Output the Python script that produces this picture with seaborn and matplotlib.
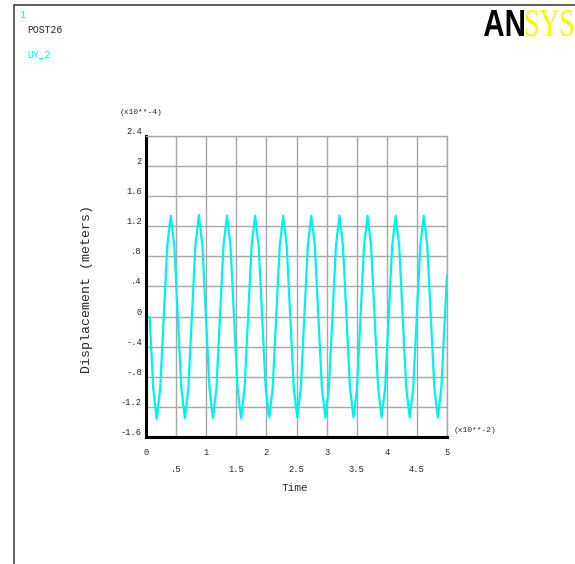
import numpy as np
import matplotlib
matplotlib.use("Agg")
import matplotlib.pyplot as plt
import seaborn as sns
from matplotlib.textpath import TextPath
from matplotlib.font_manager import FontProperties
from matplotlib.patches import PathPatch
from matplotlib.transforms import Affine2D, IdentityTransform
from matplotlib.ticker import FixedLocator, FixedFormatter

# time in x10**-2 s, displacement in x10**-4 m
time = [0.000, 0.061, 0.120, 0.178, 0.236, 0.295, 0.353, 0.411, 0.470, 0.528,
        0.587, 0.645, 0.703, 0.762, 0.820, 0.878, 0.937, 0.995, 1.054, 1.112,
        1.170, 1.229, 1.287, 1.345, 1.404, 1.462, 1.521, 1.579, 1.637, 1.696,
        1.754, 1.812, 1.871, 1.929, 1.988, 2.046, 2.104, 2.163, 2.221, 2.279,
        2.338, 2.396, 2.455, 2.513, 2.571, 2.630, 2.688, 2.746, 2.805, 2.863,
        2.922, 2.980, 3.038, 3.097, 3.155, 3.213, 3.272, 3.330, 3.389, 3.447,
        3.505, 3.564, 3.622, 3.680, 3.739, 3.797, 3.856, 3.914, 3.972, 4.031,
        4.089, 4.147, 4.206, 4.264, 4.323, 4.381, 4.439, 4.498, 4.556, 4.614,
        4.673, 4.731, 4.790, 4.848, 4.906, 4.965, 5.000]
uy_2 = [0.00, -0.01, -0.95, -1.36, -0.95, 0.00, 0.94, 1.34, 0.94, 0.00,
        -0.95, -1.35, -0.95, 0.00, 0.94, 1.35, 0.94, 0.00, -0.95, -1.35,
        -0.95, 0.00, 0.94, 1.34, 0.94, 0.00, -0.95, -1.35, -0.95, 0.00,
        0.94, 1.34, 0.94, 0.00, -0.95, -1.34, -0.95, 0.00, 0.94, 1.34,
        0.94, 0.00, -0.95, -1.34, -0.95, 0.00, 0.94, 1.34, 0.94, 0.00,
        -0.95, -1.34, -0.95, 0.00, 0.94, 1.34, 0.94, 0.00, -0.95, -1.34,
        -0.95, 0.00, 0.94, 1.34, 0.94, 0.00, -0.95, -1.34, -0.95, 0.00,
        0.94, 1.34, 0.94, 0.00, -0.95, -1.34, -0.95, 0.00, 0.94, 1.34,
        0.94, 0.00, -0.95, -1.34, -0.95, 0.00, 0.55]

y_ticks = [-1.6, -1.2, -0.8, -0.4, 0.0, 0.4, 0.8, 1.2, 1.6, 2.0, 2.4]
y_labels = ["-1.6", "-1.2", "-.8", "-.4", "0", ".4", ".8", "1.2", "1.6", "2", "2.4"]
x_major = [0, 1, 2, 3, 4, 5]
x_major_labels = ["0", "1", "2", "3", "4", "5"]
x_minor = [0.5, 1.5, 2.5, 3.5, 4.5]
x_minor_labels = [".5", "1.5", "2.5", "3.5", "4.5"]

W, H = 575, 564
CYAN = "#00f0f0"
GRID = "#a8a8a8"

sns.set_style("white")
plt.rcParams['font.family'] = ['Liberation Mono', 'DejaVu Sans Mono']

fig = plt.figure(figsize=(W / 100, H / 100), dpi=100)
ax = fig.add_axes([146 / W, 1 - 437 / H, 301 / W, 301 / H])

sns.lineplot(x=time, y=uy_2, ax=ax, color=CYAN, linewidth=1.6,
             estimator=None, sort=False)

ax.set_xlim(0, 5)
ax.set_ylim(-1.6, 2.4)

ax.yaxis.set_major_locator(FixedLocator(y_ticks))
ax.yaxis.set_major_formatter(FixedFormatter(y_labels))
ax.xaxis.set_major_locator(FixedLocator(x_major))
ax.xaxis.set_major_formatter(FixedFormatter(x_major_labels))
ax.xaxis.set_minor_locator(FixedLocator(x_minor))
ax.xaxis.set_minor_formatter(FixedFormatter(x_minor_labels))

ax.grid(True, which='both', color=GRID, linewidth=1.0)
ax.set_axisbelow(True)

ax.tick_params(axis='y', which='major', length=2, width=1, color='black',
               labelsize=6.3, pad=1)
ax.tick_params(axis='x', which='major', length=5, width=1, color=GRID,
               labelsize=6.3, pad=3)
ax.tick_params(axis='x', which='minor', length=5, width=1, color=GRID,
               labelsize=6.3, pad=15)
ax.tick_params(axis='both', which='both', direction='out')
for lbl in ax.get_yticklabels():
    lbl.set_va('bottom')

for side in ['left', 'bottom']:
    ax.spines[side].set_color('black')
    ax.spines[side].set_linewidth(2.2)
for side in ['top', 'right']:
    ax.spines[side].set_color(GRID)
    ax.spines[side].set_linewidth(1.0)
ax.set_xlabel("")
ax.set_ylabel("")

# axis titles and multipliers
fig.text(295 / W, 1 - 488 / H, "Time", fontsize=8, ha='center', va='center')
fig.text(87 / W, 1 - 289 / H, "Displacement (meters)", fontsize=9.5,
         rotation=90, ha='center', va='center')
fig.text(141 / W, 1 - 112 / H, "(x10**-4)", fontsize=5.8, ha='center', va='center')
fig.text(475 / W, 1 - 430 / H, "(x10**-2)", fontsize=5.8, ha='center', va='center')

# header texts
fig.text(19 / W, 1 - 15 / H, "1", fontsize=7, color=CYAN, ha='left', va='center')
fig.text(27 / W, 1 - 30 / H, "POST26", fontsize=7, ha='left', va='center')
fig.text(27 / W, 1 - 54 / H, "UY_2", fontsize=7, color=CYAN, ha='left', va='center')

# frame lines
fig.add_artist(plt.Line2D([14 / W, 1], [1 - 5 / H, 1 - 5 / H], color='#444444', linewidth=1.2))
fig.add_artist(plt.Line2D([14 / W, 14 / W], [0, 1 - 5 / H], color='#444444', linewidth=1.2))


def logo_part(s, prop, x0, x1, y0, y1, color):
    tp = TextPath((0, 0), s, size=100, prop=prop)
    bb = tp.get_extents()
    tr = (Affine2D().translate(-bb.x0, -bb.y0)
          .scale((x1 - x0) / bb.width, (y1 - y0) / bb.height)
          .translate(x0, H - y1))
    patch = PathPatch(tr.transform_path(tp), facecolor=color, edgecolor='none',
                      transform=IdentityTransform())
    fig.add_artist(patch)


logo_part("AN", FontProperties(family='Liberation Sans', weight='bold'),
          484, 524, 10, 36, 'black')
logo_part("SYS", FontProperties(family='Liberation Serif'),
          526, 573, 10, 36, '#f8f800')

fig.savefig("out.png", dpi=100)
